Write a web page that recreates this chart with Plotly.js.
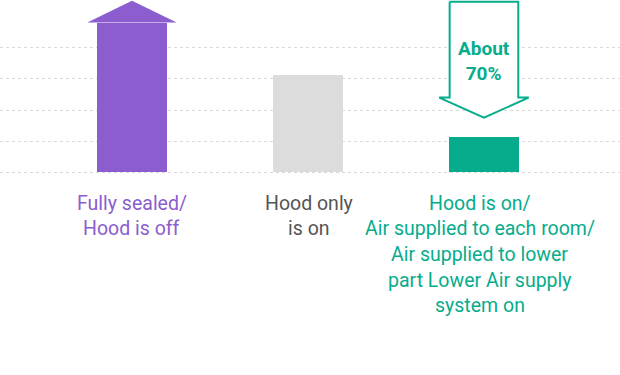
<!DOCTYPE html>
<html>
<head>
<meta charset="utf-8">
<script src="https://cdn.plot.ly/plotly-3.0.1.min.js"></script>
<style>html,body{margin:0;padding:0;background:#fff;}#chart{width:620px;height:375px;}</style>
</head>
<body>
<div id="chart"></div>
<script>
// ---- data ----
const categories = ["Fully sealed/ Hood is off", "Hood only is on", "Hood is on/ Air supplied to each room/ Air supplied to lower part Lower Air supply system on"];
const labelLines = [
  ["Fully sealed/", "Hood is off"],
  ["Hood only", "is on"],
  ["Hood is on/", "Air supplied to each room/", "Air supplied to lower", "part Lower Air supply", "system on"]
];
const values = [4.82, 3.13, 1.13];
const barColors = ["#8B5DCF", "#DCDCDC", "#06AC8C"];
const labelColors = ["#8B5DCF", "#555555", "#06AC8C"];
const upArrowTip = 5.52;          // purple arrow head apex (value units)
const downArrowTop = 5.49;        // top of the outlined reduction arrow
const downArrowShoulder = 2.40;   // where the arrow head begins
const downArrowTip = 1.75;        // apex of the reduction arrow
const reductionText = "About<br>70%";
const gridVals = [0, 1, 2, 3, 4];

// ---- build ----
const xs = categories.map((c, i) => i);
const barW = 0.4, headHalf = 0.254, shaftHalf = 0.195;

const traces = [];
traces.push({
  type: "bar", x: xs, y: values, width: barW,
  marker: {color: barColors, line: {width: 0}},
  hoverinfo: "skip", showlegend: false
});
// purple up-arrow head
traces.push({
  type: "scatter", mode: "lines", fill: "toself",
  x: [xs[0] - headHalf, xs[0], xs[0] + headHalf, xs[0] - headHalf],
  y: [values[0], upArrowTip, values[0], values[0]],
  line: {width: 0, color: barColors[0]}, fillcolor: barColors[0],
  hoverinfo: "skip", showlegend: false
});
// teal outlined down arrow
const c = xs[2];
traces.push({
  type: "scatter", mode: "lines", fill: "toself",
  x: [c - shaftHalf, c + shaftHalf, c + shaftHalf, c + headHalf, c, c - headHalf, c - shaftHalf, c - shaftHalf],
  y: [downArrowTop, downArrowTop, downArrowShoulder, downArrowShoulder, downArrowTip, downArrowShoulder, downArrowShoulder, downArrowTop],
  line: {width: 2, color: barColors[2]}, fillcolor: "#ffffff",
  hoverinfo: "skip", showlegend: false
});

const labelShift = [0, 1, -4];
const annotations = [];
labelLines.forEach((lines, i) => {
  lines.forEach((t, k) => {
    annotations.push({
      xref: "x", yref: "paper", x: xs[i], y: 0,
      xanchor: "center", yanchor: "middle",
      xshift: labelShift[i], yshift: -(29 + k * 25.7),
      text: t, showarrow: false,
      font: {family: "Roboto, sans-serif", size: 19.5, color: labelColors[i]}
    });
  });
});
annotations.push({
  xref: "x", yref: "y", x: c, y: 3.58,
  xanchor: "center", yanchor: "middle",
  text: "<b>" + reductionText + "</b>", showarrow: false,
  font: {family: "Roboto, sans-serif", size: 19, color: barColors[2]}
});

const layout = {
  width: 620, height: 375,
  margin: {l: 0, r: 0, t: 0, b: 201, pad: 0},
  paper_bgcolor: "#fff", plot_bgcolor: "#fff",
  showlegend: false,
  xaxis: {range: [-0.75, 2.773], showgrid: false, zeroline: false, showticklabels: false, ticks: "", fixedrange: true},
  yaxis: {range: [-0.0645, 5.548], tickvals: gridVals, showticklabels: false, ticks: "",
          showgrid: true, gridcolor: "#D9D9D9", gridwidth: 1, griddash: "dot", zeroline: false, fixedrange: true},
  annotations: annotations,
  bargap: 0
};
Plotly.newPlot("chart", traces, layout, {displayModeBar: false, staticPlot: true});
</script>
</body>
</html>
